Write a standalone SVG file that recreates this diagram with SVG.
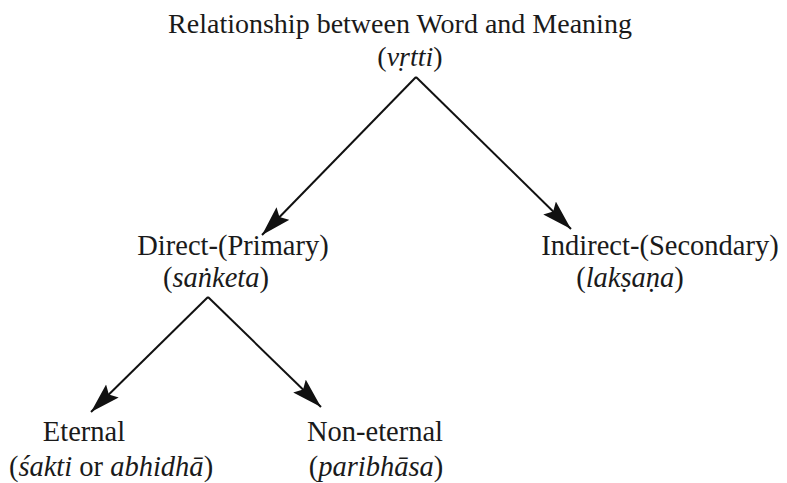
<svg xmlns="http://www.w3.org/2000/svg" width="787" height="483" viewBox="0 0 787 483">
<style>
text{font-family:"Liberation Serif","Times New Roman",serif;font-size:28.5px;fill:#1a1a1a}
.t{font-size:28px}
.i{font-style:italic}
.c{stroke:#111;stroke-width:2;fill:none}
</style>
<defs>
<marker id="ah" markerWidth="32" markerHeight="20" refX="30" refY="9" orient="auto" markerUnits="userSpaceOnUse">
<path d="M0,0 L30,9 L0,18 L5,9 Z" fill="#111"/>
</marker>
</defs>
<rect width="787" height="483" fill="#fff"/>
<g id="connectors">
<line class="c" x1="416" y1="77" x2="262" y2="235" marker-end="url(#ah)"/>
<line class="c" x1="416" y1="77" x2="571" y2="229" marker-end="url(#ah)"/>
<line class="c" x1="208" y1="297" x2="91" y2="412" marker-end="url(#ah)"/>
<line class="c" x1="208" y1="297" x2="321" y2="407" marker-end="url(#ah)"/>
</g>
<g id="root">
<text class="t" x="400" y="33" text-anchor="middle">Relationship between Word and Meaning</text>
<text class="t" x="410" y="66" text-anchor="middle">(<tspan class="i">vṛtti</tspan>)</text>
</g>
<g id="direct">
<text x="233" y="255" text-anchor="middle">Direct-(Primary)</text>
<text x="216" y="287" text-anchor="middle">(<tspan class="i">saṅketa</tspan>)</text>
</g>
<g id="indirect">
<text x="660" y="255" text-anchor="middle">Indirect-(Secondary)</text>
<text x="630" y="287" text-anchor="middle">(<tspan class="i">lakṣaṇa</tspan>)</text>
</g>
<g id="eternal">
<text x="84" y="441" text-anchor="middle">Eternal</text>
<text x="111" y="476" text-anchor="middle">(<tspan class="i">śakti</tspan> or <tspan class="i">abhidhā</tspan>)</text>
</g>
<g id="noneternal">
<text x="375" y="441" text-anchor="middle">Non-eternal</text>
<text x="376" y="476" text-anchor="middle">(<tspan class="i">paribhāsa</tspan>)</text>
</g>
</svg>
